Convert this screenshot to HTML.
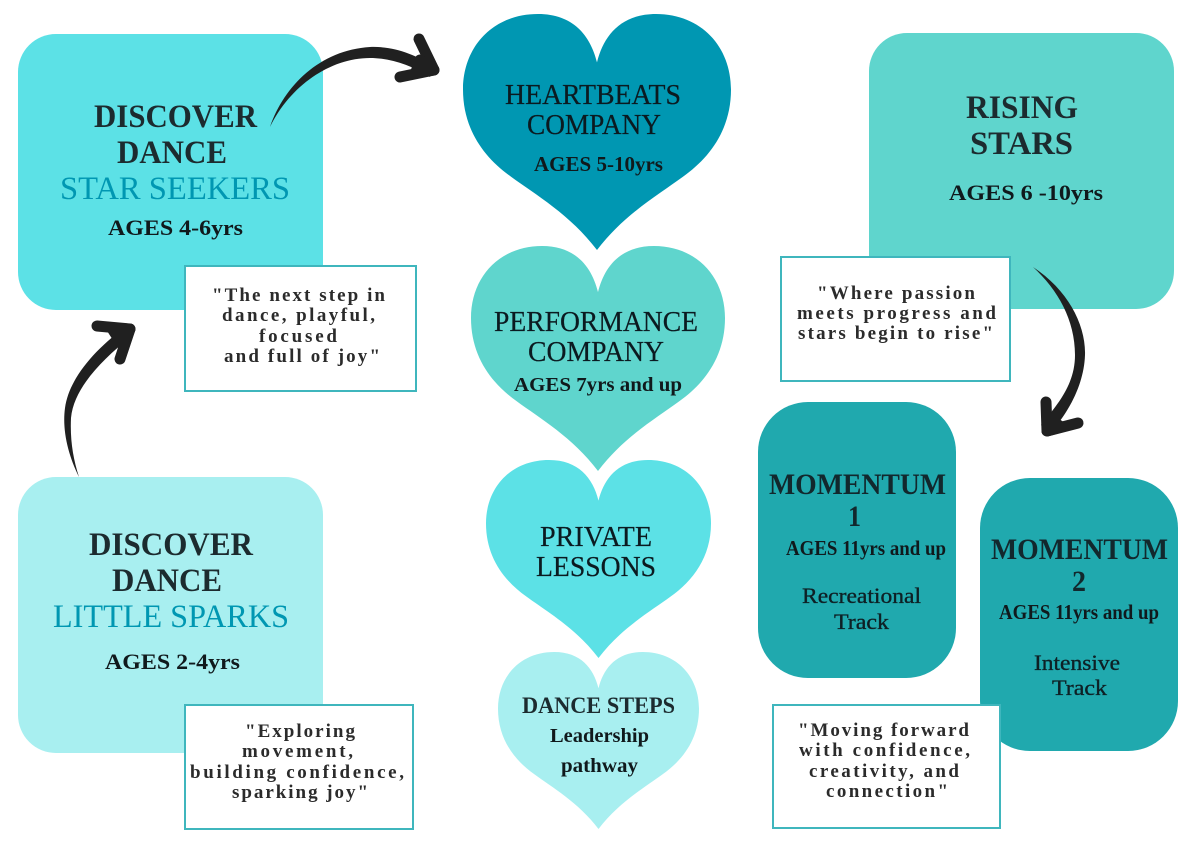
<!DOCTYPE html>
<html><head><meta charset="utf-8"><style>
html,body{margin:0;padding:0;background:#fff}
svg{display:block}
text{font-family:"Liberation Serif",serif;fill:#14272c}
.h{font-size:33px;font-weight:bold;fill:#1c2b2f}
.t{font-size:33px;fill:#0097b2}
.a{font-size:22px;font-weight:bold;fill:#10191c}
.c{font-size:28px;fill:#0b1a20;stroke:#0b1a20;stroke-width:.2}
.m{font-size:30px;font-weight:bold;fill:#12282d}
.s{font-size:22px;fill:#0e2025;stroke:#0e2025;stroke-width:.35}
.n{font-size:19px;font-weight:bold;fill:#2b2b2b}
.box{stroke:#3fb6bd;stroke-width:2;fill:#fff}
</style></head><body>
<svg width="1200" height="848" viewBox="0 0 1200 848" xmlns="http://www.w3.org/2000/svg">
<defs>
<symbol id="heart" viewBox="0 0 100 100" preserveAspectRatio="none">
<path d="M50 20.5C47.5 9 41 0 28 0C11 0 0 14 0 32C0 49 8 61 18 69C27 76.5 40 85 50 100C60 85 73 76.5 82 69C92 61 100 49 100 32C100 14 89 0 72 0C59 0 52.5 9 50 20.5Z"/>
</symbol>
</defs>
<rect width="1200" height="848" fill="#fff"/>

<rect x="18" y="34" width="305" height="276" rx="38" fill="#5ce1e6"/>
<rect x="18" y="477" width="305" height="276" rx="38" fill="#a8eff0"/>
<rect x="869" y="33" width="305" height="276" rx="38" fill="#5fd5cd"/>
<rect x="758" y="402" width="198" height="276" rx="50" fill="#20a9ae"/>
<rect x="980" y="478" width="198" height="273" rx="50" fill="#20a9ae"/>

<use href="#heart" x="463" y="14" width="268" height="236" fill="#0097b2"/>
<use href="#heart" x="471" y="246" width="254" height="225" fill="#5fd5cd"/>
<use href="#heart" x="486" y="460" width="225" height="198" fill="#5ce1e6"/>
<use href="#heart" x="498" y="652" width="201" height="177" fill="#a8eff0"/>

<rect class="box" x="185" y="266" width="231" height="125"/>
<rect class="box" x="185" y="705" width="228" height="124"/>
<rect class="box" x="781" y="257" width="229" height="124"/>
<rect class="box" x="773" y="705" width="227" height="123"/>

<g fill="#202020">
<path d="M270 127C284 86 320 50 370 47C395 46 415 55 434 66L430 77C411 65 390 58 370 58C330 58 290 86 270 127Z"/>
<path d="M79 477C68 455 62 430 65 408C69 378 96 348 128 325L133 335C108 355 74 385 71 418C70 440 73 458 79 477Z"/>
<path d="M1033 267C1068 290 1086 325 1085 355C1084 385 1068 413 1051 432L1041 425C1057 405 1075 385 1075 355C1075 320 1058 290 1033 267Z"/>
</g>
<g fill="#202020" stroke="#202020" stroke-linecap="round" stroke-linejoin="round" stroke-width="11">
<polyline fill="none" points="419,39 434,70 400,77"/>
<polygon points="434,70 420,60 416,72"/>
<polyline fill="none" points="97,326 130,329 120,359"/>
<polygon points="130,329 113,330 122,344"/>
<polyline fill="none" points="1046,402 1047,431 1078,423"/>
<polygon points="1047,431 1047,417 1061,427"/>
</g>

<text class="h" x="94" y="127" textLength="163" lengthAdjust="spacingAndGlyphs">DISCOVER</text>
<text class="h" x="117" y="163" textLength="110" lengthAdjust="spacingAndGlyphs">DANCE</text>
<text class="t" x="60" y="199" textLength="230" lengthAdjust="spacingAndGlyphs">STAR SEEKERS</text>
<text class="a" x="108" y="235" textLength="135" lengthAdjust="spacingAndGlyphs">AGES 4-6yrs</text>
<text class="n" x="212" y="301" textLength="173">"The next step in</text>
<text class="n" x="222" y="321" textLength="153">dance, playful,</text>
<text class="n" x="259" y="342" textLength="78">focused</text>
<text class="n" x="224" y="362" textLength="156">and full of joy"</text>

<text class="h" x="89" y="555" textLength="164" lengthAdjust="spacingAndGlyphs">DISCOVER</text>
<text class="h" x="112" y="591" textLength="110" lengthAdjust="spacingAndGlyphs">DANCE</text>
<text class="t" x="53" y="627" textLength="236" lengthAdjust="spacingAndGlyphs">LITTLE SPARKS</text>
<text class="a" x="105" y="669" textLength="135" lengthAdjust="spacingAndGlyphs">AGES 2-4yrs</text>
<text class="n" x="245" y="737" textLength="110">"Exploring</text>
<text class="n" x="242" y="757" textLength="111">movement,</text>
<text class="n" x="190" y="778" textLength="214">building confidence,</text>
<text class="n" x="232" y="798" textLength="136">sparking joy"</text>

<text class="h" x="966" y="118" textLength="112" lengthAdjust="spacingAndGlyphs">RISING</text>
<text class="h" x="970" y="154" textLength="103" lengthAdjust="spacingAndGlyphs">STARS</text>
<text class="a" x="949" y="200" textLength="154" lengthAdjust="spacingAndGlyphs">AGES 6 -10yrs</text>
<text class="n" x="817" y="299" textLength="158">"Where passion</text>
<text class="n" x="797" y="319" textLength="199">meets progress and</text>
<text class="n" x="798" y="339" textLength="195">stars begin to rise"</text>

<text class="m" x="769" y="494" textLength="177" lengthAdjust="spacingAndGlyphs">MOMENTUM</text>
<text class="m" x="848" y="526" textLength="13" lengthAdjust="spacingAndGlyphs">1</text>
<text class="a" x="786" y="555" textLength="160" lengthAdjust="spacingAndGlyphs" style="font-size:21px">AGES 11yrs and up</text>
<text class="s" x="802" y="603" textLength="119" lengthAdjust="spacingAndGlyphs">Recreational</text>
<text class="s" x="834" y="629" textLength="55" lengthAdjust="spacingAndGlyphs">Track</text>
<text class="m" x="991" y="559" textLength="177" lengthAdjust="spacingAndGlyphs">MOMENTUM</text>
<text class="m" x="1072" y="591" textLength="14" lengthAdjust="spacingAndGlyphs">2</text>
<text class="a" x="999" y="619" textLength="160" lengthAdjust="spacingAndGlyphs" style="font-size:21px">AGES 11yrs and up</text>
<text class="s" x="1034" y="670" textLength="86" lengthAdjust="spacingAndGlyphs">Intensive</text>
<text class="s" x="1052" y="695" textLength="55" lengthAdjust="spacingAndGlyphs">Track</text>
<text class="n" x="798" y="736" textLength="171">"Moving forward</text>
<text class="n" x="799" y="756" textLength="171">with confidence,</text>
<text class="n" x="809" y="777" textLength="150">creativity, and</text>
<text class="n" x="826" y="797" textLength="122">connection"</text>

<text class="c" x="505" y="104" textLength="176" lengthAdjust="spacingAndGlyphs">HEARTBEATS</text>
<text class="c" x="527" y="134" textLength="134" lengthAdjust="spacingAndGlyphs">COMPANY</text>
<text class="a" x="534" y="171" textLength="129" lengthAdjust="spacingAndGlyphs" style="font-size:21px">AGES 5-10yrs</text>
<text class="c" x="494" y="331" textLength="204" lengthAdjust="spacingAndGlyphs">PERFORMANCE</text>
<text class="c" x="528" y="361" textLength="136" lengthAdjust="spacingAndGlyphs">COMPANY</text>
<text class="a" x="514" y="391" textLength="168" lengthAdjust="spacingAndGlyphs" style="font-size:20px">AGES 7yrs and up</text>
<text class="c" x="540" y="546" textLength="112" lengthAdjust="spacingAndGlyphs">PRIVATE</text>
<text class="c" x="536" y="576" textLength="120" lengthAdjust="spacingAndGlyphs">LESSONS</text>
<text class="a" x="522" y="713" textLength="153" lengthAdjust="spacingAndGlyphs" style="font-size:23px;fill:#1c2b2f">DANCE STEPS</text>
<text class="a" x="550" y="742" textLength="99" lengthAdjust="spacingAndGlyphs" style="font-size:20px">Leadership</text>
<text class="a" x="561" y="772" textLength="77" lengthAdjust="spacingAndGlyphs" style="font-size:20px">pathway</text>
</svg>
</body></html>
